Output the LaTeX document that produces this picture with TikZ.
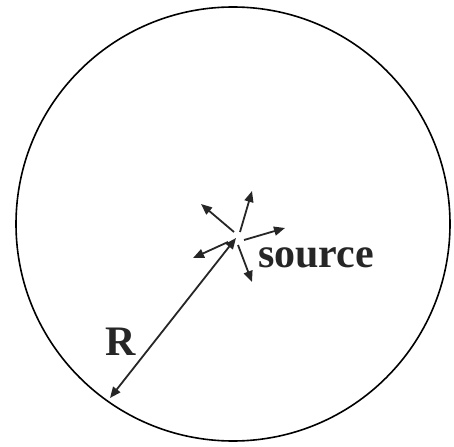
\documentclass[tikz,border=0pt]{standalone}
\usepackage{fontspec}
\setmainfont{Liberation Serif}
\usetikzlibrary{arrows.meta}
\begin{document}
\begin{tikzpicture}[x=1pt,y=-1pt,
  tip/.style={Triangle[length=11pt,width=9pt]},
  ray/.style={line width=1.8pt,-{Triangle[length=11pt,width=9pt]},color=black!85},
  lbl/.style={font=\bfseries\fontsize{42}{42}\selectfont,inner sep=0pt,text=black!85}]
\useasboundingbox (0,0) rectangle (454,446);
\node[draw,circle,line width=1.6pt,minimum size=434pt,inner sep=0pt] (ring) at (233,224) {};
\coordinate (src) at (236,238);
\coordinate (edge) at (110,398);
\coordinate (s1) at (234,232); \coordinate (t1) at (201,204);
\coordinate (s2) at (240,232); \coordinate (t2) at (252,191);
\coordinate (s3) at (244,240); \coordinate (t3) at (285,228);
\coordinate (s4) at (228,242); \coordinate (t4) at (193,258);
\coordinate (s5) at (238,245); \coordinate (t5) at (252,282);
\draw[ray] (s1) -- (t1);
\draw[ray] (s2) -- (t2);
\draw[ray] (s3) -- (t3);
\draw[ray] (s4) -- (t4);
\draw[ray] (s5) -- (t5);
\draw[ray,{Triangle[length=11pt,width=9pt]}-{Triangle[length=11pt,width=9pt]}] (src) -- (edge);
\node[lbl,anchor=base west] (source) at (258,267) {source};
\node[lbl,anchor=base west] (rlab) at (105,355) {R};
\end{tikzpicture}
\end{document}
